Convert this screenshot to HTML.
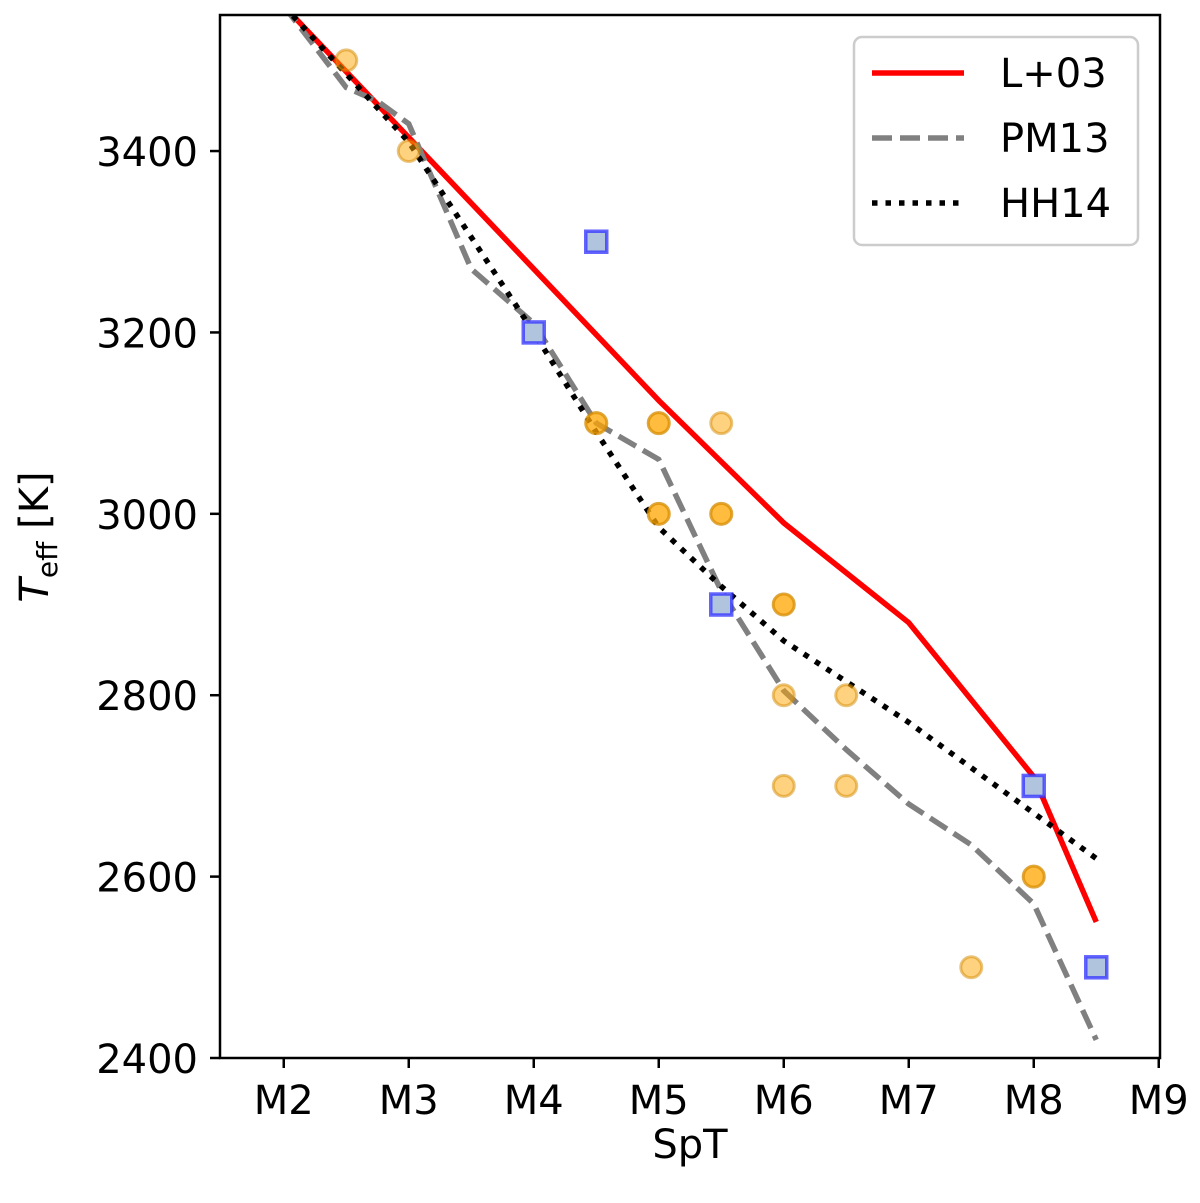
<!DOCTYPE html>
<html><head><meta charset="utf-8"><style>
html,body{margin:0;padding:0;background:#fff;}
svg text{font-family:"DejaVu Sans","Liberation Sans",sans-serif;fill:#000;}
</style></head><body>
<svg id="chart" width="1200" height="1198" viewBox="0 0 1200 1198" xmlns="http://www.w3.org/2000/svg"></svg>
<script>
const xTicks=[2,3,4,5,6,7,8,9];
const xTickLabels=["M2","M3","M4","M5","M6","M7","M8","M9"];
const yTicks=[2400,2600,2800,3000,3200,3400];
const l03X=[2,3,4,5,6,7,8,8.5];
const l03Y=[3560,3415,3270,3125,2990,2880,2710,2550];
const pm13X=[2,2.5,2.75,3,3.5,4,4.5,5,5.5,6,6.5,7,7.5,8,8.5];
const pm13Y=[3560,3470,3455,3430,3270,3210,3100,3060,2915,2805,2740,2680,2635,2570,2420];
const hh14X=[2,3,4,4.5,5,5.5,6,6.5,7,7.5,8,8.5];
const hh14Y=[3560,3410,3200,3090,2985,2920,2860,2815,2770,2720,2670,2620];
const circX=[2.5,3,4.5,4.5,5,5,5,5,5.5,5.5,5.5,6,6,6,6,6.5,6.5,7.5,8,8];
const circY=[3500,3400,3100,3100,3100,3100,3000,3000,3100,3000,3000,2900,2900,2800,2700,2800,2700,2500,2600,2600];
const sqX=[4.5,4,5.5,8,8.5];
const sqY=[3300,3200,2900,2700,2500];

const L=220,R=1160,T=15,B=1058,XMIN=1.49,XMAX=9.01,YMIN=2400,YMAX=3550;
const sx=v=>L+(v-XMIN)/(XMAX-XMIN)*(R-L);
const sy=v=>B-(v-YMIN)/(YMAX-YMIN)*(B-T);
const NS="http://www.w3.org/2000/svg";
const svg=document.getElementById('chart');
function mk(tag,attrs,parent){const e=document.createElementNS(NS,tag);for(const k in attrs)e.setAttribute(k,attrs[k]);(parent||svg).appendChild(e);return e;}

const defs=mk('defs',{});
const cp=mk('clipPath',{id:'clip'},defs);
mk('rect',{x:L,y:T,width:R-L,height:B-T},cp);

function line(xs,ys,attrs,name){
  const p=mk('polyline',Object.assign({points:xs.map((x,i)=>sx(x)+','+sy(ys[i])).join(' '),fill:'none','clip-path':'url(#clip)'},attrs));
  
  
}
line(l03X,l03Y,{stroke:'#ff0000','stroke-width':5.5},'l03-line');
line(pm13X,pm13Y,{stroke:'#808080','stroke-width':5.5,'stroke-dasharray':'20,8'},'pm13-line');
line(hh14X,hh14Y,{stroke:'#000','stroke-width':5.5,'stroke-dasharray':'5.5,8'},'hh14-line');

circX.forEach((x,i)=>{
  const c=mk('circle',{cx:sx(x),cy:sy(circY[i]),r:10.5,fill:'#ffa500','fill-opacity':0.5,stroke:'#d48a00','stroke-opacity':0.5,'stroke-width':3});
  
  
});
sqX.forEach((x,i)=>{
  const s=mk('rect',{x:sx(x)-10.5,y:sy(sqY[i])-10.5,width:21,height:21,fill:'#b0c4de',stroke:'#3030ff','stroke-opacity':0.75,'stroke-width':3.5});
  
  
});

const frame=mk('rect',{x:L,y:T,width:R-L,height:B-T,fill:'none',stroke:'#000','stroke-width':2.5});



xTicks.forEach((v,i)=>{
  mk('line',{x1:sx(v),x2:sx(v),y1:B,y2:B+10,stroke:'#000','stroke-width':2.5});
  const t=mk('text',{x:sx(v),y:B+56,'text-anchor':'middle','font-size':40});
  t.textContent=xTickLabels[i];
  
  
});
yTicks.forEach(v=>{
  mk('line',{x1:L-10,x2:L,y1:sy(v),y2:sy(v),stroke:'#000','stroke-width':2.5});
  const t=mk('text',{x:L-22,y:sy(v)+15,'text-anchor':'end','font-size':40});
  t.textContent=v;
  
  
});
const xl=mk('text',{x:(L+R)/2,y:1158,'text-anchor':'middle','font-size':40});
xl.textContent='SpT';


const yl=mk('text',{x:0,y:0,'text-anchor':'middle','font-size':40,transform:'translate(48,537) rotate(-90)'});
yl.innerHTML='<tspan font-style="italic">T</tspan><tspan font-size="28" dy="9">eff</tspan><tspan dy="-9"> [K]</tspan>';



const lg=mk('g',{});


mk('rect',{x:854,y:37,width:284,height:208,rx:8,fill:'#fff',stroke:'#ccc','stroke-width':2.5},lg);
const entries=[['L+03',{stroke:'#ff0000'}],['PM13',{stroke:'#808080','stroke-dasharray':'20,8'}],['HH14',{stroke:'#000','stroke-dasharray':'5.5,8'}]];
entries.forEach((e,i)=>{
  const y=73+i*65;
  const g=mk('g',{},lg);
  
  
  mk('line',Object.assign({x1:872,x2:964,y1:y,y2:y,'stroke-width':5.5},e[1]),g);
  const t=mk('text',{x:1000,y:y+14,'font-size':40},g);
  t.textContent=e[0];
});
</script>
</body></html>
